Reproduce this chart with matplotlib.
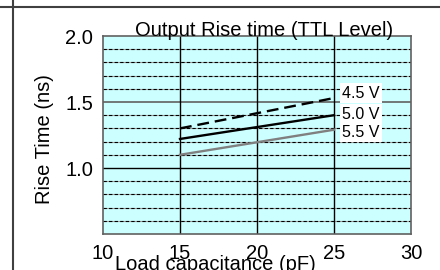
import numpy as np
import matplotlib
matplotlib.use("Agg")
from matplotlib import pyplot as plt

plt.rcParams['font.family'] = ['Liberation Sans', 'DejaVu Sans']

# data
load_pf = [15, 25]
rise_45v = [1.30, 1.53]
rise_50v = [1.22, 1.40]
rise_55v = [1.10, 1.29]
series_names = ["4.5 V", "5.0 V", "5.5 V"]
label_y = [1.568, 1.409, 1.269]
x_ticks = [10, 15, 20, 25, 30]
y_ticks = [1.0, 1.5, 2.0]
y_minor = [0.6, 0.7, 0.8, 0.9, 1.1, 1.2, 1.3, 1.4, 1.6, 1.7, 1.8, 1.9]

W, H = 440, 270
fig = plt.figure(figsize=(4.4, 2.7), dpi=100, facecolor='white')

# frame lines of the surrounding page
fig.add_artist(plt.Line2D([0, 1], [1 - 7 / H, 1 - 7 / H], color='#404040', lw=1.5))
fig.add_artist(plt.Line2D([12.5 / W, 12.5 / W], [0, 1], color='#404040', lw=1.5))
# cut-off caption of the chart above
fig.text(248 / W, 1 + 4.5 / H, "Load capacitance (pF)", fontsize=14.5,
         ha='center', va='baseline')

ax = fig.add_axes([103 / W, 36 / H, 308 / W, 198 / H])
ax.set_facecolor('#ccffff')
ax.set_xlim(10, 30)
ax.set_ylim(0.5, 2.0)

# grid
for y in y_minor:
    ax.axhline(y, color='#a0a0a0', lw=0.8, zorder=1)
    ax.axhline(y, color='black', lw=0.8, ls=(0, (3, 2)), zorder=1)
ax.axhline(1.0, color='black', lw=1.0, zorder=1)
ax.axhline(1.5, color='#606060', lw=1.2, zorder=1)
for x in [15, 20, 25]:
    ax.axvline(x, color='black', lw=1.0, zorder=1)

ax.plot(load_pf, rise_45v, color='black', lw=1.7, ls=(0, (5, 2.5)), zorder=3)
ax.plot(load_pf, rise_50v, color='black', lw=1.7, zorder=3)
ax.plot(load_pf, rise_55v, color='#808080', lw=1.7, zorder=3)

for name, y in zip(series_names, label_y):
    ax.text(25.55, y, name, fontsize=11.5, ha='left', va='center', zorder=4,
            bbox=dict(facecolor='white', edgecolor='none', pad=1.5))

ax.set_xticks(x_ticks)
ax.set_yticks(y_ticks)
ax.set_yticklabels(["1.0", "1.5", "2.0"])
ax.tick_params(length=0, labelsize=14.5, colors='black')
ax.tick_params(axis='x', pad=7)
ax.tick_params(axis='y', pad=7)
for s in ax.spines.values():
    s.set_color('#606060')
    s.set_linewidth(1.2)

fig.text(264 / W, 1 - 36.5 / H, "Output Rise time (TTL Level)", fontsize=14.5,
         ha='center', va='baseline')
fig.text(215 / W, 0.5 / H, "Load capacitance (pF)", fontsize=14.5,
         ha='center', va='baseline')
fig.text(45 / W, 1 - 139 / H, "Rise Time (ns)", fontsize=14.5, rotation=90,
         ha='center', va='center')

fig.savefig("out.png", dpi=100)
